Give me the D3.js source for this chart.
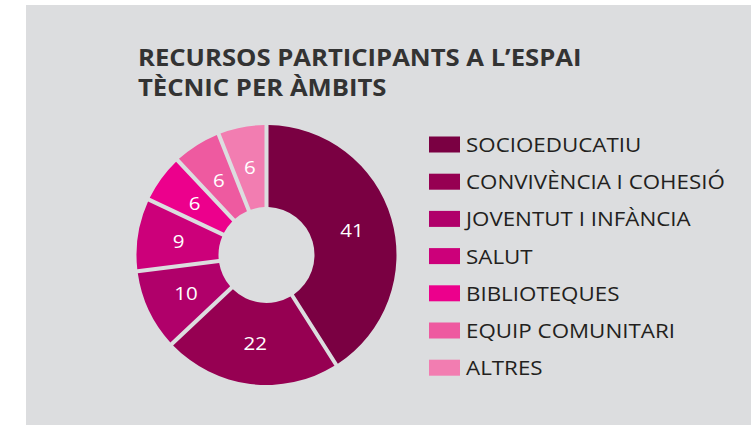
<!DOCTYPE html>
<html>
<head>
<meta charset="utf-8">
<script src="https://cdn.jsdelivr.net/npm/d3@7"></script>
<style>
  body { margin: 0; background: #ffffff; }
  svg { display: block; }
  text { font-family: "Open Sans", "Noto Sans", sans-serif; }
</style>
</head>
<body>
<div id="chart"></div>
<script>
const categories = ["SOCIOEDUCATIU", "CONVIVÈNCIA I COHESIÓ", "JOVENTUT I INFÀNCIA", "SALUT", "BIBLIOTEQUES", "EQUIP COMUNITARI", "ALTRES"]
const values = [41, 22, 10, 9, 6, 6, 6]
const colors = ["#7a0042", "#960052", "#b0006a", "#cc007a", "#ec008c", "#ee5aa0", "#f27db1"]
const title_lines = ["RECURSOS PARTICIPANTS A L’ESPAI", "TÈCNIC PER ÀMBITS"]

const width = 751, height = 425
const panel_color = "#dcdddf"

let svg = d3.select("#chart")
    .append("svg")
    .attr("width", width)
    .attr("height", height)

svg.append("rect")
    .attr("x", 26)
    .attr("y", 5)
    .attr("width", width - 26)
    .attr("height", height - 5)
    .attr("fill", panel_color)

// title (the source type is set a little wide, so stretch it)
svg.selectAll(".title")
    .data(title_lines)
    .enter()
    .append("text")
    .attr("class", "title")
    .attr("transform", (d, i) => "translate(138," + (66 + i * 30) + ") scale(1.14,1)")
    .attr("font-size", 22.5)
    .attr("font-weight", 700)
    .attr("fill", "#333333")
    .text(d => d)

// donut
const data = categories.map((c, i) => ({name: c, value: values[i], color: colors[i]}))
const outer_r = 130, inner_r = 48
const pie = d3.pie()
    .sort(null)
    .value(d => d.value)
const arc = d3.arc()
    .innerRadius(inner_r)
    .outerRadius(outer_r)
    .padAngle(0.031)
    .padRadius(outer_r)
const label_arc = d3.arc()
    .innerRadius(inner_r)
    .outerRadius(outer_r)

let donut = svg.append("g")
    .attr("transform", "translate(266.5,255)")

let slices = donut.selectAll(".slice")
    .data(pie(data))
    .enter()
    .append("g")
    .attr("class", "slice")

slices.append("path")
    .attr("d", arc)
    .attr("fill", d => d.data.color)

slices.append("text")
    .attr("transform", d => "translate(" + label_arc.centroid(d) + ") scale(1.08,1)")
    .attr("text-anchor", "middle")
    .attr("dy", "0.36em")
    .attr("font-size", 19)
    .attr("fill", "#ffffff")
    .text(d => d.data.value)

// legend
const row_h = 37.2
const y_legend = d3.scaleBand()
    .domain(categories)
    .range([136.5, 136.5 + row_h * categories.length])

let legend = svg.append("g")
let rows = legend.selectAll(".legend_row")
    .data(data)
    .enter()
    .append("g")
    .attr("class", "legend_row")
    .attr("transform", d => "translate(429," + y_legend(d.name) + ")")

rows.append("rect")
    .attr("x", 0)
    .attr("y", 0)
    .attr("width", 31)
    .attr("height", 16)
    .attr("fill", d => d.color)

rows.append("text")
    .attr("transform", "translate(37,15.5) scale(1.09,1)")
    .attr("font-size", 20.5)
    .attr("fill", "#231f20")
    .text(d => d.name)
</script>
</body>
</html>
